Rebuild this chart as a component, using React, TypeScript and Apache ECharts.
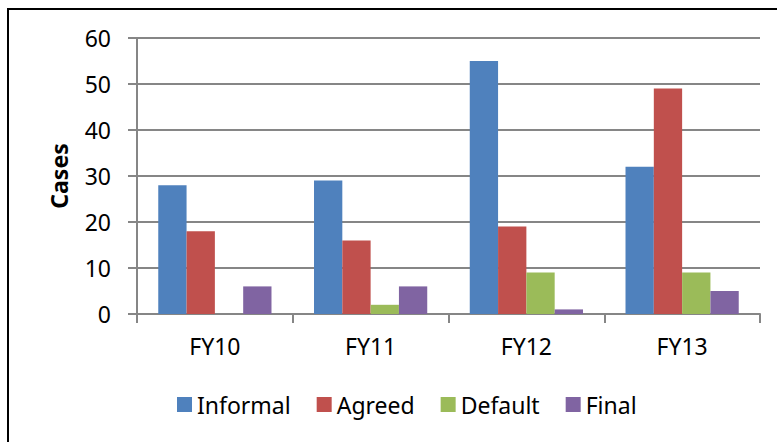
import React, { useEffect, useRef } from "react";
import * as echarts from "echarts";

const categories = ["FY10", "FY11", "FY12", "FY13"];
const informal = [28, 29, 55, 32];
const agreed = [18, 16, 19, 49];
const defaultCases = [0, 2, 9, 9];
const finalCases = [6, 6, 1, 5];
const seriesNames = ["Informal", "Agreed", "Default", "Final"];
const colors = ["#4F81BD", "#C0504D", "#9BBB59", "#8064A2"];

export default function App() {
  const ref = useRef<HTMLDivElement>(null);
  useEffect(() => {
    if (!ref.current) return;
    const chart = echarts.init(ref.current, null, { renderer: "svg" });
    const font = "'Noto Sans', sans-serif";
    const data = [informal, agreed, defaultCases, finalCases];
    chart.setOption({
      animation: false,
      backgroundColor: "#ffffff",
      textStyle: { fontFamily: font },
      grid: { left: 137, right: 17, top: 38, bottom: 128, containLabel: false },
      legend: {
        data: seriesNames,
        left: 172,
        top: 388,
        itemWidth: 15,
        itemHeight: 15,
        itemGap: 26,
        icon: "rect",
        textStyle: { fontFamily: font, fontSize: 23, color: "#000" },
      },
      xAxis: {
        type: "category",
        data: categories,
        boundaryGap: true,
        axisLine: { lineStyle: { color: "#868686", width: 2 } },
        axisTick: { show: true, length: 9, lineStyle: { color: "#868686", width: 2 } },
        axisLabel: { fontFamily: font, fontSize: 23, color: "#000", margin: 20 },
      },
      yAxis: {
        type: "value",
        min: 0,
        max: 60,
        interval: 10,
        name: "Cases",
        nameLocation: "middle",
        nameGap: 67,
        nameRotate: 90,
        nameTextStyle: { fontFamily: font, fontSize: 23, fontWeight: "bold", color: "#000" },
        axisLine: { show: true, lineStyle: { color: "#868686", width: 2 } },
        axisTick: { show: true, length: 9, lineStyle: { color: "#868686", width: 2 } },
        axisLabel: { fontFamily: font, fontSize: 23, color: "#000", margin: 26 },
        splitLine: { show: true, lineStyle: { color: "#868686", width: 2 } },
      },
      series: seriesNames.map((name, i) => ({
        name,
        type: "bar",
        data: data[i],
        barGap: "0%",
        barCategoryGap: "27.3%",
        itemStyle: { color: colors[i] },
      })),
      graphic: [
        { type: "line", shape: { x1: 8, y1: 8, x2: 8, y2: 442 }, style: { stroke: "#000", lineWidth: 2 } },
        { type: "line", shape: { x1: 7, y1: 9, x2: 777, y2: 9 }, style: { stroke: "#000", lineWidth: 2 } },
      ],
    });
    return () => chart.dispose();
  }, []);
  return (
    <div
      ref={ref}
      style={{ position: "absolute", left: 0, top: 0, width: 777, height: 442 }}
    />
  );
}
